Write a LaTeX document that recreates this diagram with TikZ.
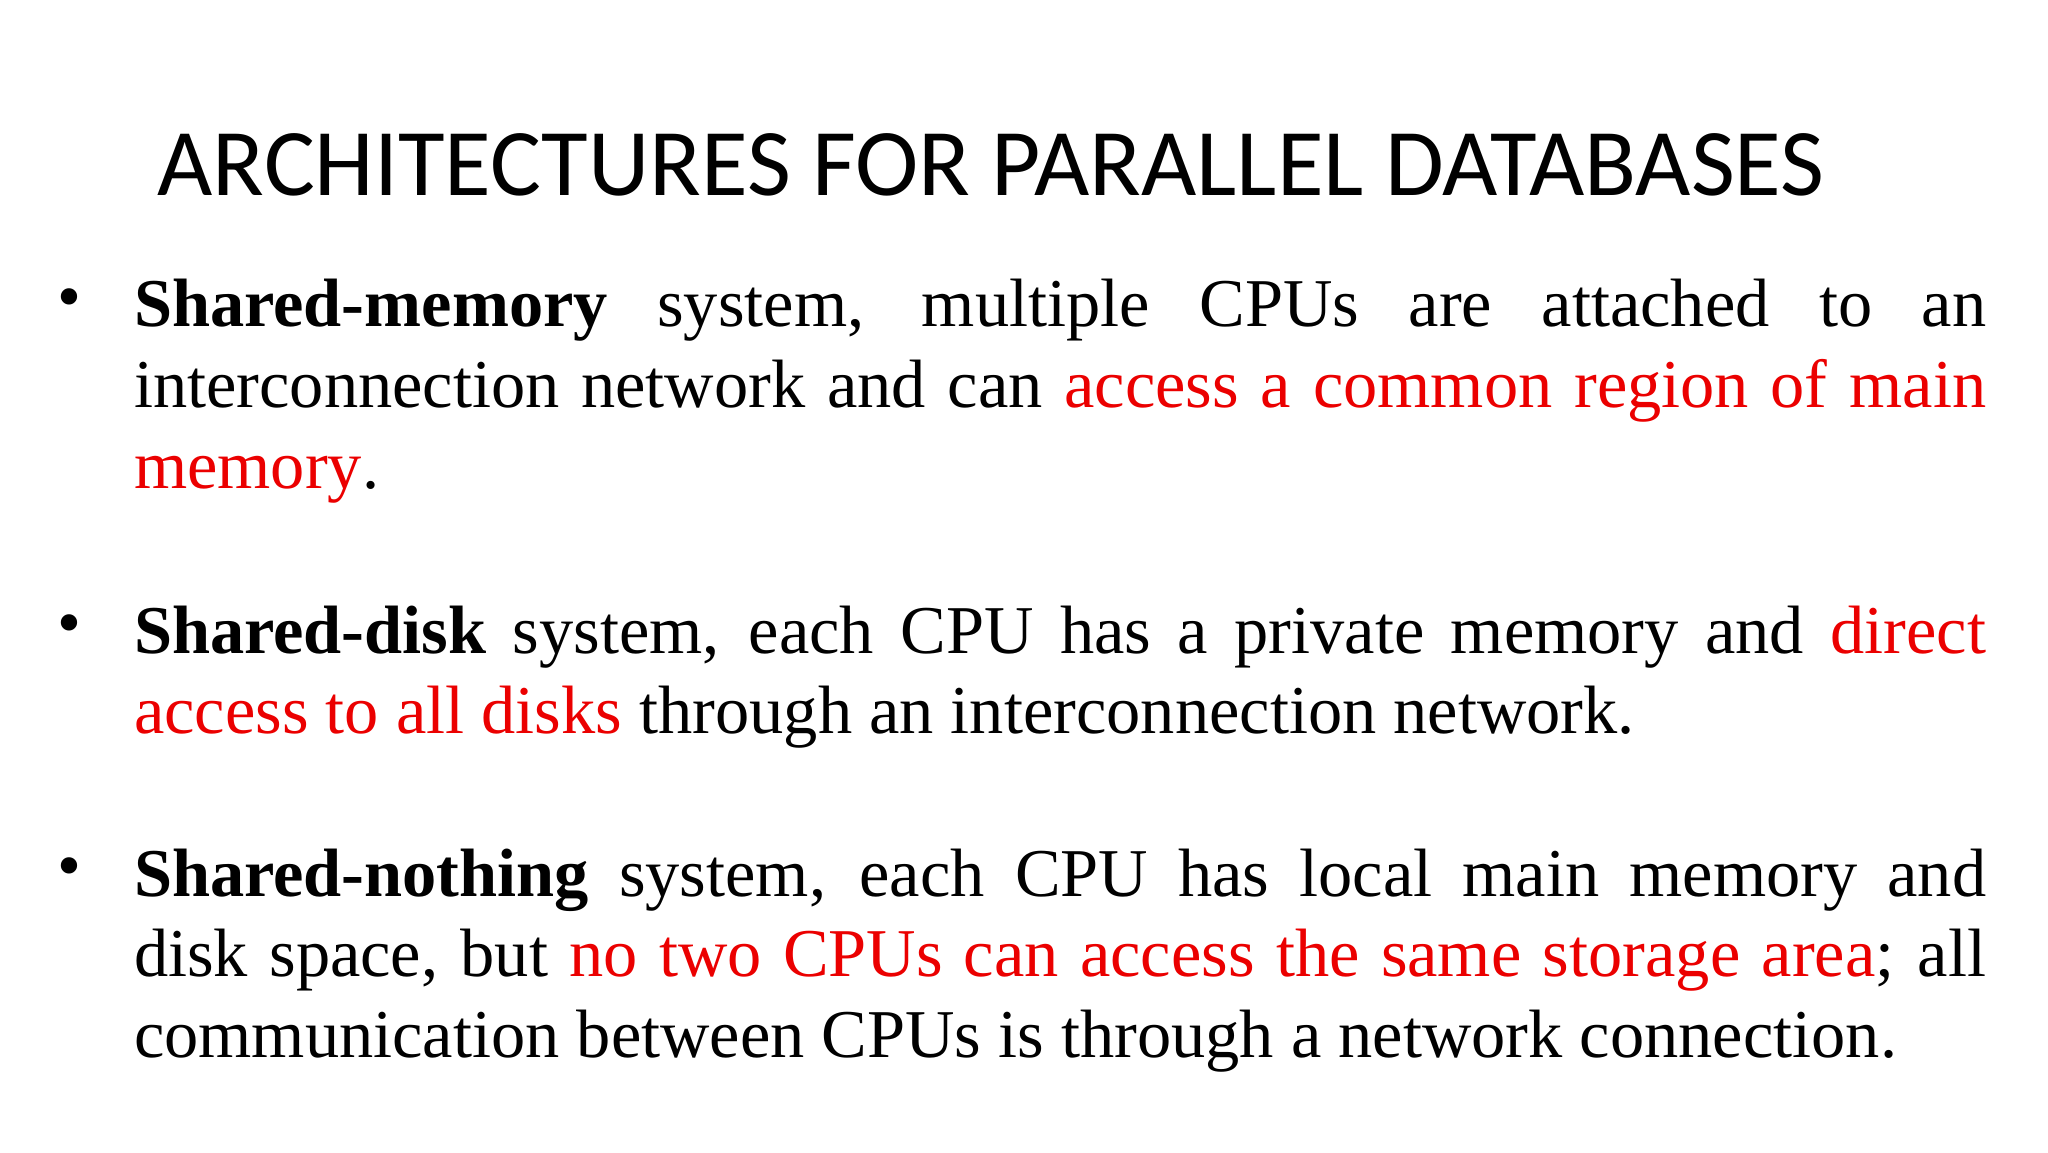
\documentclass[tikz,border=0pt]{standalone}
\usepackage{fontspec}
\setmainfont{Liberation Serif}
\newfontfamily\titlefont{Carlito}
\definecolor{hl}{RGB}{235,0,0}
\tikzset{
  para/.style={anchor=north west, inner sep=0pt, text width=14.18cm, align=justify, font=\fontsize{14.9}{17.6}\selectfont},
  bul/.style={anchor=north west, inner sep=0pt, font=\fontsize{14.9}{17.6}\selectfont}
}
\begin{document}
\begin{tikzpicture}[x=1cm,y=1cm]
\useasboundingbox (0,0) rectangle (15.68,-8.82);
\fill[white] (0,0) rectangle (15.68,-8.82);
\node[anchor=base west, inner sep=0pt, font=\titlefont\fontsize{20.8}{24}\selectfont] (title) at (1.2,-1.50) {ARCHITECTURES FOR PARALLEL DATABASES};
\node[bul] (b1) at (0.43,-2.20) {\textbullet};
\node[para] (p1) at (1.02,-2.13) {\textbf{Shared-memory} system, multiple CPUs are attached to an\linebreak interconnection network and can \textcolor{hl}{access a common region of main\linebreak memory}.};
\node[bul] (b2) at (0.43,-4.70) {\textbullet};
\node[para] (p2) at (1.02,-4.63) {\textbf{Shared-disk} system, each CPU has a private memory and \textcolor{hl}{direct\linebreak access to all disks} through an interconnection network.};
\node[bul] (b3) at (0.43,-6.56) {\textbullet};
\node[para] (p3) at (1.02,-6.49) {\textbf{Shared-nothing} system, each CPU has local main memory and\linebreak disk space, but \textcolor{hl}{no two CPUs can access the same storage area}; all\linebreak communication between CPUs is through a network connection.};
\end{tikzpicture}
\end{document}
